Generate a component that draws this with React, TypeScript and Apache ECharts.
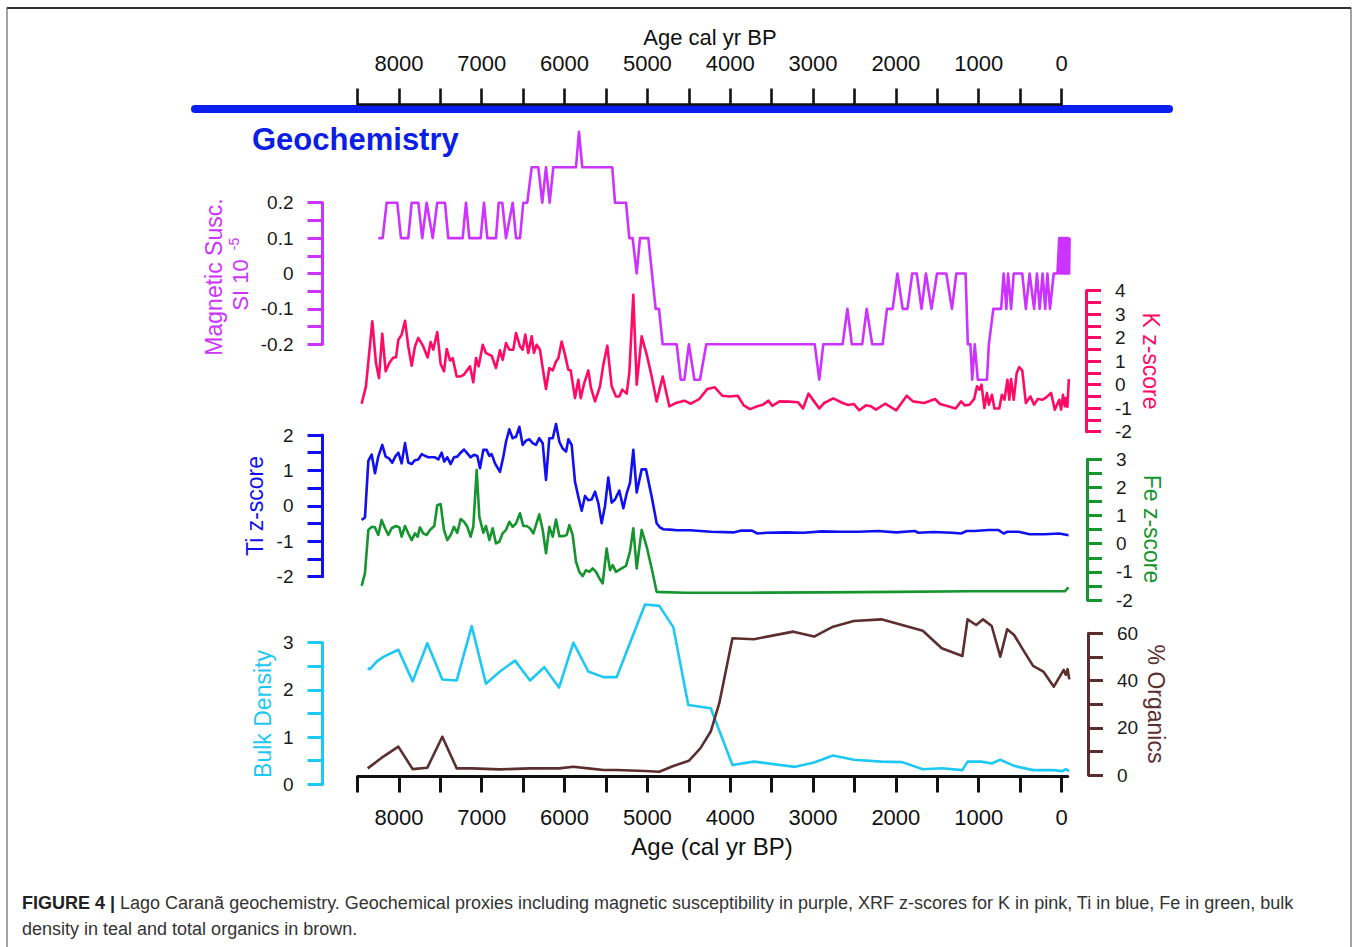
import React, { useEffect, useRef } from "react";
import * as echarts from "echarts";

// ---------------- data (age in cal yr BP) ----------------
const magAge = [8249, 8196, 8148, 8020, 7975, 7887, 7846, 7766, 7718, 7665, 7592, 7537, 7444, 7404, 7230, 7190, 7150, 7013, 6973, 6933, 6828, 6795, 6752, 6707, 6626, 6586, 6538, 6498, 6450, 6397, 6317, 6269, 6224, 6180, 6136, 5862, 5826, 5786, 5424, 5391, 5258, 5218, 5178, 5129, 5089, 4989, 4900, 4860, 4815, 4646, 4598, 4553, 4499, 4432, 4365, 4289, 2979, 2925, 2876, 2643, 2585, 2531, 2406, 2352, 2286, 2160, 2107, 2039, 1981, 1918, 1860, 1802, 1748, 1690, 1637, 1570, 1503, 1391, 1323, 1270, 1158, 1131, 1100, 1078, 1047, 1011, 900, 877, 823, 729, 698, 666, 645, 608, 577, 474, 430, 385, 331, 296, 264, 228, 197, 170, 139, 94, 49, 27, 20, 13, 6, -1, -8, -15, -22, -29, -36, -43, -50, -57, -64, -71, -78, -85, -92, -98];
const magVal = [0.1, 0.1, 0.2, 0.2, 0.1, 0.1, 0.2, 0.2, 0.1, 0.2, 0.1, 0.2, 0.2, 0.1, 0.1, 0.2, 0.1, 0.1, 0.2, 0.1, 0.1, 0.2, 0.2, 0.1, 0.2, 0.1, 0.1, 0.2, 0.2, 0.3, 0.3, 0.2, 0.3, 0.2, 0.3, 0.3, 0.4, 0.3, 0.3, 0.2, 0.2, 0.1, 0.1, 0, 0.1, 0.1, -0.1, -0.1, -0.2, -0.2, -0.3, -0.3, -0.2, -0.3, -0.3, -0.2, -0.2, -0.3, -0.2, -0.2, -0.1, -0.2, -0.2, -0.1, -0.2, -0.2, -0.1, -0.1, 0, -0.1, -0.1, 0, 0, -0.1, 0, -0.1, 0, 0, -0.1, 0, 0, -0.2, -0.2, -0.3, -0.2, -0.3, -0.3, -0.2, -0.1, -0.1, 0, -0.1, 0, -0.1, 0, 0, -0.1, 0, -0.1, 0, -0.1, 0, -0.1, 0, -0.1, 0, 0, 0.1, 0, 0.1, 0, 0.1, 0, 0.1, 0, 0.1, 0, 0.1, 0, 0.1, 0, 0.1, 0, 0.1, 0, 0.1];

const kAge = [8450, 8398, 8321, 8277, 8241, 8201, 8160, 8116, 8068, 8035, 8007, 7967, 7926, 7887, 7846, 7806, 7766, 7706, 7653, 7617, 7585, 7537, 7496, 7456, 7423, 7383, 7351, 7302, 7254, 7214, 7142, 7102, 7069, 7037, 6988, 6949, 6880, 6828, 6780, 6747, 6707, 6667, 6619, 6586, 6538, 6506, 6474, 6438, 6397, 6369, 6337, 6297, 6264, 6224, 6184, 6143, 6103, 6075, 6035, 5995, 5955, 5926, 5874, 5834, 5805, 5762, 5713, 5681, 5632, 5572, 5532, 5484, 5431, 5379, 5339, 5303, 5250, 5218, 5170, 5129, 5069, 5008, 4948, 4888, 4815, 4735, 4656, 4553, 4477, 4374, 4275, 4186, 4096, 4007, 3909, 3837, 3761, 3672, 3604, 3537, 3493, 3404, 3291, 3180, 3121, 3055, 2987, 2924, 2866, 2755, 2643, 2576, 2509, 2441, 2362, 2299, 2241, 2129, 1995, 1869, 1793, 1659, 1525, 1467, 1369, 1279, 1212, 1168, 1110, 1055, 1020, 989, 966, 931, 900, 877, 840, 810, 751, 720, 689, 653, 630, 609, 577, 541, 510, 474, 430, 375, 331, 286, 228, 184, 126, 81, 27, 5, -18, -40, -53, -71, -89];
const kVal = [-0.81, -0.07, 2.7, 0.92, 0.28, 2.17, 0.57, 0.92, 1.16, 1.16, 1.91, 2.13, 2.72, 1.63, 0.81, 1.63, 1.99, 1.63, 1.16, 1.82, 1.49, 2.24, 0.88, 0.57, 1.52, 1.03, 1.13, 0.35, 0.35, 0.43, 0.78, 0.1, 1.13, 0.78, 1.7, 1.35, 1.23, 0.71, 1.46, 1.06, 1.77, 1.49, 1.49, 2.2, 1.63, 1.49, 2.13, 1.35, 2.06, 1.35, 1.7, 1.49, 0.71, -0.18, 0.71, 0.61, 0.99, 1.13, 1.84, 1.28, 0.64, 0.61, -0.57, 0.21, -0.57, 0.07, 0.61, -0.14, -0.71, -0.07, 0.85, 1.66, -0.07, -0.5, -0.5, -0.21, -0.38, 0.5, 3.83, 0, 2.06, 1.28, 0.35, -0.71, 0.35, -0.92, -0.78, -0.68, -0.81, -0.61, -0.18, -0.11, -0.47, -0.5, -0.47, -0.88, -1.04, -0.92, -0.85, -0.68, -0.9, -0.71, -0.72, -0.75, -1.01, -0.38, -0.71, -1.01, -0.78, -0.58, -0.78, -0.86, -0.82, -1.09, -0.88, -0.92, -1.06, -0.81, -1.09, -0.47, -0.71, -0.78, -0.61, -0.82, -0.92, -1.01, -0.71, -0.88, -0.85, -0.61, -0.07, -0.21, 0, -0.99, -0.35, -0.85, -0.43, -1.01, -1.01, -0.43, -0.64, 0.21, -0.64, 0.24, -0.64, 0.5, 0.75, 0.61, -0.78, -0.5, -0.85, -0.61, -0.64, -0.54, -0.35, -1.06, -0.64, -1.06, -0.43, -0.92, -0.57, -0.95, 0.24];

const tiAge = [8450, 8410, 8369, 8329, 8289, 8249, 8201, 8160, 8120, 8080, 8039, 8007, 7967, 7926, 7887, 7846, 7806, 7766, 7725, 7685, 7645, 7565, 7524, 7484, 7452, 7416, 7375, 7335, 7295, 7254, 7214, 7174, 7134, 7093, 7053, 7021, 6981, 6941, 6908, 6880, 6840, 6780, 6739, 6707, 6667, 6627, 6586, 6546, 6506, 6466, 6425, 6385, 6345, 6305, 6264, 6224, 6184, 6143, 6103, 6063, 6023, 5982, 5954, 5914, 5874, 5834, 5793, 5753, 5713, 5673, 5632, 5592, 5552, 5512, 5472, 5431, 5391, 5339, 5290, 5250, 5210, 5170, 5129, 5069, 5017, 4948, 4888, 4848, 4807, 4727, 4646, 4485, 4231, 3963, 3873, 3738, 3671, 3560, 3336, 3113, 2889, 2666, 2441, 2218, 1995, 1771, 1727, 1548, 1323, 1212, 1145, 1055, 877, 764, 698, 653, 519, 385, 206, 27, -85];
const tiVal = [-0.4, -0.33, 1.27, 1.45, 0.92, 1.39, 1.72, 1.39, 1.34, 1.22, 1.41, 1.5, 1.2, 1.77, 1.22, 1.18, 1.29, 1.31, 1.46, 1.41, 1.37, 1.37, 1.31, 1.5, 1.25, 1.37, 1.18, 1.37, 1.39, 1.5, 1.59, 1.48, 1.37, 1.44, 1.41, 1.06, 1.58, 1.58, 1.41, 1.46, 1.2, 0.96, 1.39, 1.81, 2.16, 1.91, 1.95, 2.23, 1.72, 1.84, 1.88, 1.77, 1.72, 1.91, 1.77, 0.73, 1.91, 1.91, 2.31, 1.81, 1.62, 1.53, 1.88, 1.72, 0.68, 0.26, -0.14, 0.28, 0.16, 0.18, 0.4, 0.07, -0.49, -0.01, 0.8, 0.09, 0.18, 0.43, -0.07, 0.35, 0.65, 1.58, 0.38, 1.03, 1.03, 0.26, -0.49, -0.61, -0.66, -0.67, -0.69, -0.69, -0.73, -0.75, -0.7, -0.7, -0.78, -0.76, -0.75, -0.76, -0.72, -0.73, -0.73, -0.71, -0.75, -0.71, -0.76, -0.74, -0.76, -0.78, -0.71, -0.71, -0.68, -0.68, -0.78, -0.73, -0.73, -0.8, -0.8, -0.78, -0.83];

const feAge = [8450, 8410, 8369, 8329, 8289, 8249, 8209, 8168, 8128, 8088, 8035, 7995, 7967, 7926, 7887, 7846, 7806, 7774, 7746, 7706, 7665, 7625, 7573, 7537, 7496, 7456, 7416, 7375, 7335, 7295, 7254, 7214, 7174, 7134, 7102, 7061, 7029, 6981, 6949, 6908, 6868, 6828, 6788, 6747, 6707, 6667, 6627, 6586, 6538, 6498, 6458, 6418, 6377, 6305, 6264, 6224, 6184, 6143, 6103, 6063, 6015, 5974, 5942, 5902, 5862, 5822, 5781, 5741, 5701, 5661, 5620, 5580, 5540, 5492, 5451, 5419, 5379, 5331, 5258, 5210, 5170, 5129, 5069, 5008, 4948, 4888, 4807, 4544, 3784, 2889, 1995, 1100, -40, -85];
const feVal = [-1.5, -1.05, 0.49, 0.6, 0.58, 0.31, 0.84, 0.55, 0.31, 0.55, 0.63, 0.58, 0.25, 0.63, 0.37, 0.13, 0.37, 0.25, 0.58, 0.37, 0.31, 0.49, 0.63, 1.37, 1.41, 0.49, 0.13, 0.31, 0.6, 0.39, 0.88, 0.78, 0.6, 0.25, 0.6, 2.62, 0.96, 0.39, 0.63, 0.13, 0.55, 0.01, 0.07, 0.37, 0.49, 0.78, 0.6, 0.72, 1.08, 0.63, 0.63, 0.55, 0.37, 1.04, 0.49, -0.34, 0.6, 0.25, 0.86, 0.27, 0.27, 0.31, 0.66, 0.31, -0.64, -1.0, -1.15, -0.94, -1.0, -0.88, -1.0, -1.23, -1.41, -0.17, -0.94, -0.76, -1.0, -0.91, -0.79, -0.28, 0.55, -0.88, 0.49, -0.11, -0.88, -1.71, -1.72, -1.74, -1.74, -1.73, -1.71, -1.69, -1.69, -1.55];

const bdAge = [8377, 8349, 8269, 8188, 8007, 7834, 7657, 7476, 7302, 7121, 6949, 6780, 6598, 6417, 6245, 6067, 5894, 5713, 5532, 5371, 5029, 4856, 4687, 4506, 4235, 3973, 3715, 3215, 2987, 2758, 2508, 2175, 1925, 1675, 1446, 1197, 1134, 967, 843, 739, 572, 343, 93, -11, -53, -94];
const bdVal = [2.46, 2.44, 2.6, 2.7, 2.85, 2.18, 2.99, 2.22, 2.2, 3.35, 2.13, 2.39, 2.62, 2.2, 2.48, 2.05, 3.0, 2.39, 2.27, 2.27, 3.81, 3.78, 3.33, 1.68, 1.61, 0.41, 0.48, 0.37, 0.46, 0.61, 0.52, 0.48, 0.47, 0.32, 0.34, 0.3, 0.48, 0.48, 0.44, 0.52, 0.39, 0.3, 0.3, 0.28, 0.32, 0.28];

const orgAge = [8377, 8188, 8007, 7834, 7657, 7476, 7302, 7121, 6780, 6417, 6067, 5894, 5713, 5532, 5371, 5029, 4856, 4687, 4500, 4361, 4235, 4132, 3973, 3715, 3507, 3237, 2987, 2758, 2508, 2175, 1925, 1675, 1446, 1197, 1134, 1030, 947, 843, 739, 656, 572, 467, 343, 219, 93, -27, -53, -74, -94];
const orgVal = [2.8, 7.8, 12.0, 2.5, 3.1, 16.2, 2.8, 2.8, 2.4, 2.8, 2.8, 3.5, 2.8, 2.1, 2.1, 1.7, 1.4, 3.8, 6.0, 11.3, 18.4, 30.4, 57.9, 57.5, 58.9, 60.7, 58.6, 62.8, 65.2, 65.9, 63.5, 61.1, 53.7, 50.4, 65.9, 63.5, 65.9, 63.1, 50.1, 61.7, 59.3, 53.2, 46.2, 43.8, 37.4, 44.5, 42.4, 44.8, 40.5];

const ageTicks = [0, 500, 1000, 1500, 2000, 2500, 3000, 3500, 4000, 4500, 5000, 5500, 6000, 6500, 7000, 7500, 8000, 8500];
const ageLabels = [0, 1000, 2000, 3000, 4000, 5000, 6000, 7000, 8000];

// ---------------- colours ----------------
const C_MAG = "#CC33FF";
const C_K = "#FF0A66";
const C_TI = "#1010F0";
const C_FE = "#16952E";
const C_BD = "#1EC8F5";
const C_ORG = "#5C2E2E";
const C_HEAD = "#0A1EE6";
const FONT = "'Liberation Sans', Arial, Helvetica, sans-serif";

// ---------------- layout ----------------
const X_LEFT = 357.5;
const PX_PER_YR = 704 / 8500;
const AGE_MIN = -100;
const AGE_MAX = 8500;
const DATA_W = (AGE_MAX - AGE_MIN) * PX_PER_YR;

const pairs = (a: number[], v: number[]) => a.map((x, i) => [x, v[i]]);

function dataX(gridIndex: number) {
  return {
    type: "value", gridIndex, min: AGE_MIN, max: AGE_MAX, inverse: true, show: false,
    splitLine: { show: false },
  };
}

function yAx(gridIndex: number, pos: "left" | "right", min: number, max: number, interval: number, color: string, offset: number) {
  return {
    type: "value", gridIndex, position: pos, offset, min, max, interval,
    axisLine: { show: true, onZero: false, lineStyle: { color, width: 3 } },
    axisTick: { show: true, length: 15, lineStyle: { color, width: 3 } },
    minorTick: { show: true, splitNumber: 2, length: 15, lineStyle: { color, width: 3 } },
    splitLine: { show: false },
    minorSplitLine: { show: false },
    axisLabel: { color: "#1a1a1a", fontSize: 19, margin: 29, fontFamily: FONT },
  };
}

function lineSeries(name: string, xi: number, age: number[], val: number[], color: string) {
  return {
    name, type: "line", xAxisIndex: xi, yAxisIndex: xi, data: pairs(age, val),
    showSymbol: false, symbol: "none", clip: false, z: 3,
    lineStyle: { color, width: 2.6, join: "round" },
  };
}

function vText(text: string, x: number, y: number, rot: number, color: string, size = 23) {
  return {
    type: "text", x, y, rotation: rot, z: 20,
    style: { text, fill: color, fontSize: size, fontFamily: FONT, textAlign: "center", textVerticalAlign: "middle" },
  };
}

export default function App() {
  const ref = useRef<HTMLDivElement>(null);
  useEffect(() => {
    document.body.style.margin = "0";
    const chart = echarts.init(ref.current!, null, { renderer: "svg" });
    const grid = (top: number, height: number, width = DATA_W) => ({
      left: X_LEFT, top, width, height, containLabel: false, outerBoundsMode: "none",
    });
    const option: any = {
      animation: false,
      backgroundColor: "#ffffff",
      grid: [
        grid(104.5, 10, 704), // 0 top age axis
        grid(766.5, 10, (8500 + 75) * PX_PER_YR), // 1 bottom age axis
        grid(202.7, 141.6), // 2 mag
        grid(290.7, 141), // 3 K
        grid(435, 141.7), // 4 Ti
        grid(459.3, 140.7), // 5 Fe
        grid(642.7, 141.6), // 6 BD
        grid(633.3, 141.7), // 7 Org
      ],
      xAxis: [
        {
          type: "value", gridIndex: 0, position: "top", min: 0, max: 8500, interval: 500, inverse: true, z: 10,
          axisLine: { onZero: false, lineStyle: { color: "#111", width: 2.6 } },
          axisTick: { length: 16, lineStyle: { color: "#111", width: 2.6 } },
          axisLabel: { color: "#111", fontSize: 22, margin: 30, fontFamily: FONT, formatter: (v: number) => (v % 1000 === 0 ? String(v) : "") },
          splitLine: { show: false },
        },
        {
          type: "value", gridIndex: 1, position: "bottom", min: -75, max: 8500, inverse: true,
          axisLine: { onZero: false, lineStyle: { color: "#111", width: 3 } },
          axisTick: { length: 16, customValues: ageTicks, lineStyle: { color: "#111", width: 3 } },
          axisLabel: { color: "#111", fontSize: 22, margin: 30, fontFamily: FONT, customValues: ageLabels, formatter: (v: number) => String(v) },
          splitLine: { show: false },
        },
        dataX(2), dataX(3), dataX(4), dataX(5), dataX(6), dataX(7),
      ],
      yAxis: [
        { type: "value", gridIndex: 0, show: false, min: 0, max: 1 },
        { type: "value", gridIndex: 1, show: false, min: 0, max: 1 },
        yAx(2, "left", -0.2, 0.2, 0.1, C_MAG, X_LEFT - 322.5),
        yAx(3, "right", -2, 4, 1, C_K, 1086 - (X_LEFT + DATA_W)),
        yAx(4, "left", -2, 2, 1, C_TI, X_LEFT - 322.5),
        yAx(5, "right", -2, 3, 1, C_FE, 1087 - (X_LEFT + DATA_W)),
        yAx(6, "left", 0, 3, 1, C_BD, X_LEFT - 322.5),
        yAx(7, "right", 0, 60, 20, C_ORG, 1088 - (X_LEFT + DATA_W)),
      ],
      series: [
        lineSeries("Magnetic Susc.", 2, magAge, magVal, C_MAG),
        lineSeries("K z-score", 3, kAge, kVal, C_K),
        lineSeries("Ti z-score", 4, tiAge, tiVal, C_TI),
        lineSeries("Fe z-score", 5, feAge, feVal, C_FE),
        lineSeries("Bulk Density", 6, bdAge, bdVal, C_BD),
        lineSeries("% Organics", 7, orgAge, orgVal, C_ORG),
      ],
      graphic: [
        {
          type: "rect", z: 0, shape: { x: 7, y: 8, width: 1344, height: 960 },
          style: { fill: "none", stroke: "#666", lineWidth: 1.2 },
        },
        { type: "line", z: 1, shape: { x1: 7, y1: 8, x2: 1351, y2: 8 }, style: { stroke: "#333", lineWidth: 2 } },
        {
          type: "line", z: 0, shape: { x1: 195, y1: 109, x2: 1169, y2: 109 },
          style: { stroke: "#0A1EF0", lineWidth: 8, lineCap: "round" },
        },
        {
          type: "text", x: 710, y: 37, z: 20,
          style: { text: "Age cal yr BP", fill: "#111", fontSize: 22, fontFamily: FONT, textAlign: "center", textVerticalAlign: "middle" },
        },
        {
          type: "text", x: 252, y: 139, z: 20,
          style: { text: "Geochemistry", fill: C_HEAD, fontSize: 31, fontWeight: "bold", fontFamily: FONT, textAlign: "left", textVerticalAlign: "middle" },
        },
        vText("Magnetic Susc.", 214, 277, Math.PI / 2, C_MAG),
        vText("SI 10", 240, 285, Math.PI / 2, C_MAG, 22),
        vText("-5", 234, 244, Math.PI / 2, C_MAG, 14),
        vText("K z-score", 1151, 361, -Math.PI / 2, C_K),
        vText("Ti z-score", 255, 506, Math.PI / 2, C_TI),
        vText("Fe z-score", 1152, 529, -Math.PI / 2, C_FE),
        vText("Bulk Density", 263, 714, Math.PI / 2, C_BD),
        vText("% Organics", 1156, 704, -Math.PI / 2, C_ORG),
        {
          type: "text", x: 712, y: 846, z: 20,
          style: { text: "Age (cal yr BP)", fill: "#111", fontSize: 24, fontFamily: FONT, textAlign: "center", textVerticalAlign: "middle" },
        },
        {
          type: "text", x: 22, y: 916, z: 20,
          style: {
            text: "{b|FIGURE 4 |} Lago Caranã geochemistry. Geochemical proxies including magnetic susceptibility in purple, XRF z-scores for K in pink, Ti in blue, Fe in green, bulk\ndensity in teal and total organics in brown.",
            fill: "#333", fontSize: 18, lineHeight: 26,
            fontFamily: "'Liberation Sans Narrow', 'Liberation Sans', Arial, sans-serif",
            textAlign: "left", textVerticalAlign: "middle",
            rich: {
              b: { fontWeight: "bold", fill: "#222", fontSize: 18, lineHeight: 26, fontFamily: "'Liberation Sans Narrow', 'Liberation Sans', Arial, sans-serif" },
            },
          },
        },
      ],
    };
    chart.setOption(option);
    return () => chart.dispose();
  }, []);
  return <div ref={ref} style={{ position: "absolute", left: 0, top: 0, width: 1358, height: 947 }} />;
}
